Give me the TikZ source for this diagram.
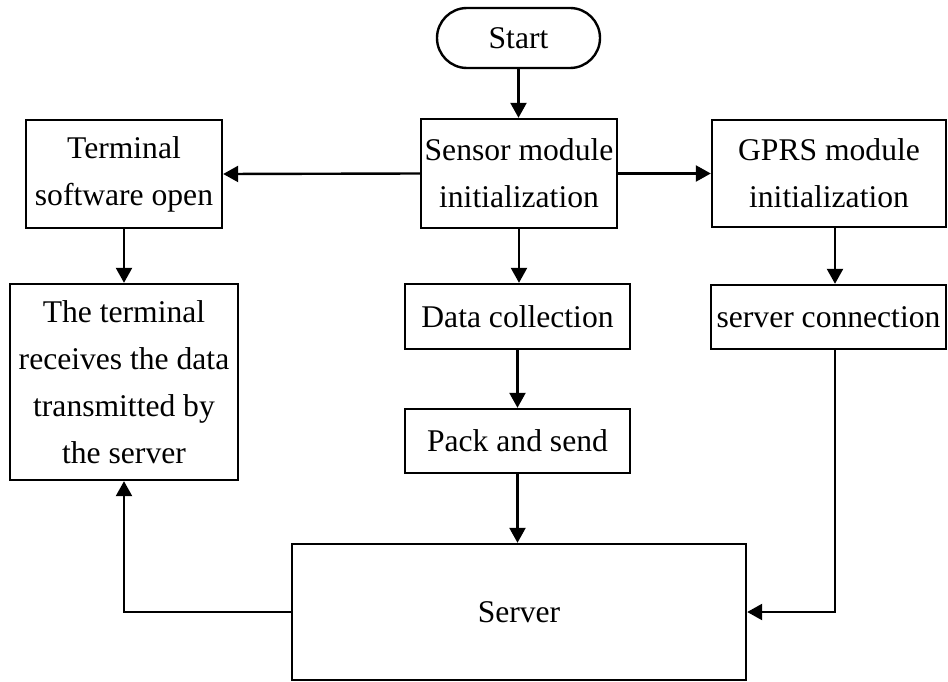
\documentclass[tikz,border=0pt]{standalone}
\usepackage{fontspec}
\setmainfont{Liberation Serif}
\usetikzlibrary{arrows.meta}
\begin{document}
\begin{tikzpicture}[x=1pt,y=-1pt,
  every node/.style={font=\fontsize{31.6}{47}\selectfont},
  box/.style={draw,line width=2.4pt,rectangle,inner sep=0pt,align=center},
  pill/.style={box,rounded corners=30pt},
  arr/.style={line width=2.4pt,-{Triangle[length=15pt,width=16pt]}},
  ln/.style={line width=2.4pt}]
\useasboundingbox (0,0) rectangle (948,682);
\node[pill,minimum width=163pt,minimum height=60pt] (start) at (518.5,38) {Start};
\node[box,minimum width=196pt,minimum height=109pt] (sensor) at (519,173.5) {Sensor module\\initialization};
\node[box,minimum width=196pt,minimum height=108pt] (term) at (124,174) {Terminal\\software open};
\node[box,minimum width=234pt,minimum height=107pt] (gprs) at (829,173.5) {GPRS module\\initialization};
\node[box,minimum width=228pt,minimum height=196pt] (recv) at (124,382) {The terminal\\receives the data\\transmitted by\\the server};
\node[box,minimum width=225pt,minimum height=65pt] (data) at (517.5,316.5) {Data collection};
\node[box,minimum width=235pt,minimum height=64pt] (conn) at (828.5,317) {server connection};
\node[box,minimum width=225pt,minimum height=64pt] (pack) at (517.5,441) {Pack and send};
\node[box,minimum width=454pt,minimum height=136pt] (server) at (519,612) {Server};
\draw[arr] (start.south) -- (start.south |- sensor.north);
\draw[arr] (sensor.west) -- (term.east);
\draw[arr] (sensor.east) -- (gprs.west);
\draw[arr] (term.south) -- (recv.north);
\draw[arr] (sensor.south) -- (sensor.south |- data.north);
\draw[arr] (data.south) -- (pack.north);
\draw[arr] (pack.south) -- (pack.south |- server.north);
\draw[arr] ([xshift=6pt]gprs.south) -- ([xshift=6pt]gprs.south |- conn.north);
\draw[arr] ([xshift=6.5pt]conn.south) |- (server.east);
\draw[arr] (server.west) -| (recv.south);
\end{tikzpicture}
\end{document}
